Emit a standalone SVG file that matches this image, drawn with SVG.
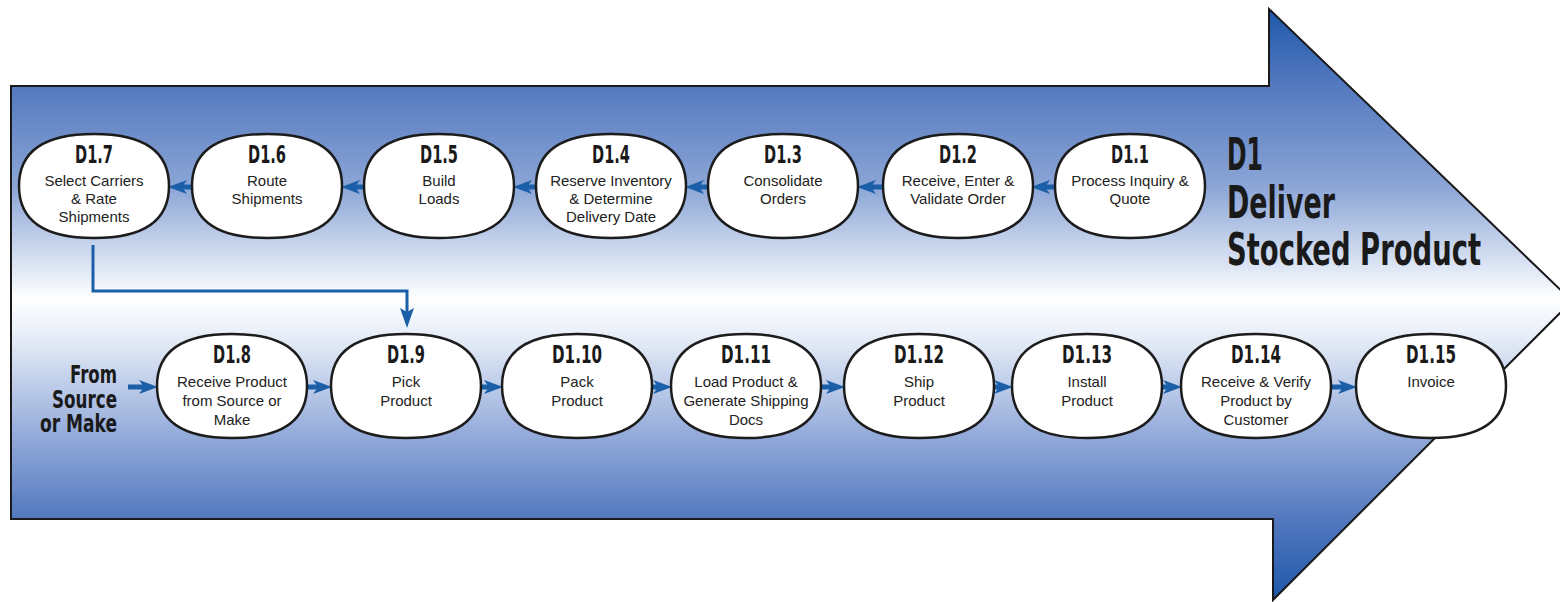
<svg xmlns="http://www.w3.org/2000/svg" xmlns:xlink="http://www.w3.org/1999/xlink" width="1560" height="602" viewBox="0 0 1560 602">
<defs>
<linearGradient id="bg" gradientUnits="userSpaceOnUse" x1="0" y1="9" x2="0" y2="600">
<stop offset="0" stop-color="#1f58ab"/>
<stop offset="0.13" stop-color="#5479bf"/>
<stop offset="0.3" stop-color="#8ba5d6"/>
<stop offset="0.44" stop-color="#dfe7f5"/>
<stop offset="0.49" stop-color="#ffffff"/>
<stop offset="0.56" stop-color="#e4ebf7"/>
<stop offset="0.72" stop-color="#94abda"/>
<stop offset="0.86" stop-color="#5479bf"/>
<stop offset="1" stop-color="#1f58ab"/>
</linearGradient>
<path id="oval" d="M-75,0 C-75,-35 -50,-52 0,-52 C50,-52 75,-35 75,0 C75,35 50,52 0,52 C-50,52 -75,35 -75,0 Z"/>
<marker id="ah" markerUnits="userSpaceOnUse" markerWidth="19" markerHeight="14" refX="9" refY="7" orient="auto">
<path d="M0,0 L19,7 L0,14 L5,7 Z" fill="#1a5fa8"/>
</marker>
<marker id="ahv" markerUnits="userSpaceOnUse" markerWidth="20" markerHeight="14" refX="10" refY="7" orient="auto">
<path d="M0,0 L20,7 L0,14 L4,7 Z" fill="#1a5fa8"/>
</marker>
</defs>
<style>
.oval{fill:#fff;stroke:#1c1c1c;stroke-width:2.5}
.id{font-family:'Liberation Sans Narrow','DejaVu Sans Condensed','Liberation Sans',sans-serif;font-weight:bold;font-size:25px;text-anchor:middle;fill:#1a1a1a}
.lbl{font-family:'Liberation Sans',Arial,sans-serif;font-size:15px;text-anchor:middle;fill:#222}
.big{font-family:'Liberation Sans Narrow','DejaVu Sans Condensed','Liberation Sans',sans-serif;font-weight:bold;fill:#1a1a1a}
.flow{stroke:#1a5fa8;stroke-width:5;fill:none;marker-end:url(#ah)}
.link{stroke:#1a5fa8;stroke-width:3;fill:none;marker-end:url(#ahv)}
</style>

<g id="big-arrow">
<path d="M11,86 H1269 V9 L1572,301 L1273,600 V519 H11 Z" fill="url(#bg)" stroke="#1a1a1a" stroke-width="2"/>
</g>

<g id="title" class="big">
<text x="1227" y="170" font-size="44" textLength="36" lengthAdjust="spacingAndGlyphs">D1</text>
<text x="1227" y="218" font-size="44" textLength="108" lengthAdjust="spacingAndGlyphs">Deliver</text>
<text x="1227" y="265" font-size="44" textLength="254" lengthAdjust="spacingAndGlyphs">Stocked Product</text>
</g>

<g id="from-source" class="big" text-anchor="end">
<text x="117" y="383" font-size="25" textLength="47" lengthAdjust="spacingAndGlyphs">From</text>
<text x="117" y="408" font-size="25" textLength="65" lengthAdjust="spacingAndGlyphs">Source</text>
<text x="117" y="432" font-size="25" textLength="77" lengthAdjust="spacingAndGlyphs">or Make</text>
</g>

<g id="connectors">
<line class="flow" x1="1056" y1="187" x2="1041" y2="187"/>
<line class="flow" x1="884" y1="187" x2="867" y2="187"/>
<line class="flow" x1="709" y1="187" x2="695" y2="187"/>
<line class="flow" x1="537" y1="187" x2="523" y2="187"/>
<line class="flow" x1="365" y1="187" x2="351" y2="187"/>
<line class="flow" x1="193" y1="187" x2="178" y2="187"/>
<line class="flow" x1="128" y1="387" x2="148" y2="387"/>
<line class="flow" x1="306" y1="387" x2="322" y2="387"/>
<line class="flow" x1="480" y1="387" x2="493" y2="387"/>
<line class="flow" x1="651" y1="387" x2="662" y2="387"/>
<line class="flow" x1="820" y1="387" x2="835" y2="387"/>
<line class="flow" x1="993" y1="387" x2="1003" y2="387"/>
<line class="flow" x1="1161" y1="387" x2="1172" y2="387"/>
<line class="flow" x1="1330" y1="387" x2="1347" y2="387"/>
<path class="link" d="M93,245 V291 H407 V318"/>
</g>

<g id="D1.1">
<use href="#oval" x="1130" y="186" class="oval"/>
<text class="id" x="1130" y="163" textLength="38" lengthAdjust="spacingAndGlyphs">D1.1</text>
<text class="lbl" x="1130" y="186">Process Inquiry &amp;</text>
<text class="lbl" x="1130" y="204">Quote</text>
</g>
<g id="D1.2">
<use href="#oval" x="958" y="186" class="oval"/>
<text class="id" x="958" y="163" textLength="38" lengthAdjust="spacingAndGlyphs">D1.2</text>
<text class="lbl" x="958" y="186">Receive, Enter &amp;</text>
<text class="lbl" x="958" y="204">Validate Order</text>
</g>
<g id="D1.3">
<use href="#oval" x="783" y="186" class="oval"/>
<text class="id" x="783" y="163" textLength="38" lengthAdjust="spacingAndGlyphs">D1.3</text>
<text class="lbl" x="783" y="186">Consolidate</text>
<text class="lbl" x="783" y="204">Orders</text>
</g>
<g id="D1.4">
<use href="#oval" x="611" y="186" class="oval"/>
<text class="id" x="611" y="163" textLength="38" lengthAdjust="spacingAndGlyphs">D1.4</text>
<text class="lbl" x="611" y="186">Reserve Inventory</text>
<text class="lbl" x="611" y="204">&amp; Determine</text>
<text class="lbl" x="611" y="222">Delivery Date</text>
</g>
<g id="D1.5">
<use href="#oval" x="439" y="186" class="oval"/>
<text class="id" x="439" y="163" textLength="38" lengthAdjust="spacingAndGlyphs">D1.5</text>
<text class="lbl" x="439" y="186">Build</text>
<text class="lbl" x="439" y="204">Loads</text>
</g>
<g id="D1.6">
<use href="#oval" x="267" y="186" class="oval"/>
<text class="id" x="267" y="163" textLength="38" lengthAdjust="spacingAndGlyphs">D1.6</text>
<text class="lbl" x="267" y="186">Route</text>
<text class="lbl" x="267" y="204">Shipments</text>
</g>
<g id="D1.7">
<use href="#oval" x="94" y="186" class="oval"/>
<text class="id" x="94" y="163" textLength="38" lengthAdjust="spacingAndGlyphs">D1.7</text>
<text class="lbl" x="94" y="186">Select Carriers</text>
<text class="lbl" x="94" y="204">&amp; Rate</text>
<text class="lbl" x="94" y="222">Shipments</text>
</g>

<g id="D1.8">
<use href="#oval" x="232" y="386" class="oval"/>
<text class="id" x="232" y="363" textLength="38" lengthAdjust="spacingAndGlyphs">D1.8</text>
<text class="lbl" x="232" y="387">Receive Product</text>
<text class="lbl" x="232" y="406">from Source or</text>
<text class="lbl" x="232" y="425">Make</text>
</g>
<g id="D1.9">
<use href="#oval" x="406" y="386" class="oval"/>
<text class="id" x="406" y="363" textLength="38" lengthAdjust="spacingAndGlyphs">D1.9</text>
<text class="lbl" x="406" y="387">Pick</text>
<text class="lbl" x="406" y="406">Product</text>
</g>
<g id="D1.10">
<use href="#oval" x="577" y="386" class="oval"/>
<text class="id" x="577" y="363" textLength="50" lengthAdjust="spacingAndGlyphs">D1.10</text>
<text class="lbl" x="577" y="387">Pack</text>
<text class="lbl" x="577" y="406">Product</text>
</g>
<g id="D1.11">
<use href="#oval" x="746" y="386" class="oval"/>
<text class="id" x="746" y="363" textLength="50" lengthAdjust="spacingAndGlyphs">D1.11</text>
<text class="lbl" x="746" y="387">Load Product &amp;</text>
<text class="lbl" x="746" y="406">Generate Shipping</text>
<text class="lbl" x="746" y="425">Docs</text>
</g>
<g id="D1.12">
<use href="#oval" x="919" y="386" class="oval"/>
<text class="id" x="919" y="363" textLength="50" lengthAdjust="spacingAndGlyphs">D1.12</text>
<text class="lbl" x="919" y="387">Ship</text>
<text class="lbl" x="919" y="406">Product</text>
</g>
<g id="D1.13">
<use href="#oval" x="1087" y="386" class="oval"/>
<text class="id" x="1087" y="363" textLength="50" lengthAdjust="spacingAndGlyphs">D1.13</text>
<text class="lbl" x="1087" y="387">Install</text>
<text class="lbl" x="1087" y="406">Product</text>
</g>
<g id="D1.14">
<use href="#oval" x="1256" y="386" class="oval"/>
<text class="id" x="1256" y="363" textLength="50" lengthAdjust="spacingAndGlyphs">D1.14</text>
<text class="lbl" x="1256" y="387">Receive &amp; Verify</text>
<text class="lbl" x="1256" y="406">Product by</text>
<text class="lbl" x="1256" y="425">Customer</text>
</g>
<g id="D1.15">
<use href="#oval" x="1431" y="386" class="oval"/>
<text class="id" x="1431" y="363" textLength="50" lengthAdjust="spacingAndGlyphs">D1.15</text>
<text class="lbl" x="1431" y="387">Invoice</text>
</g>
</svg>
